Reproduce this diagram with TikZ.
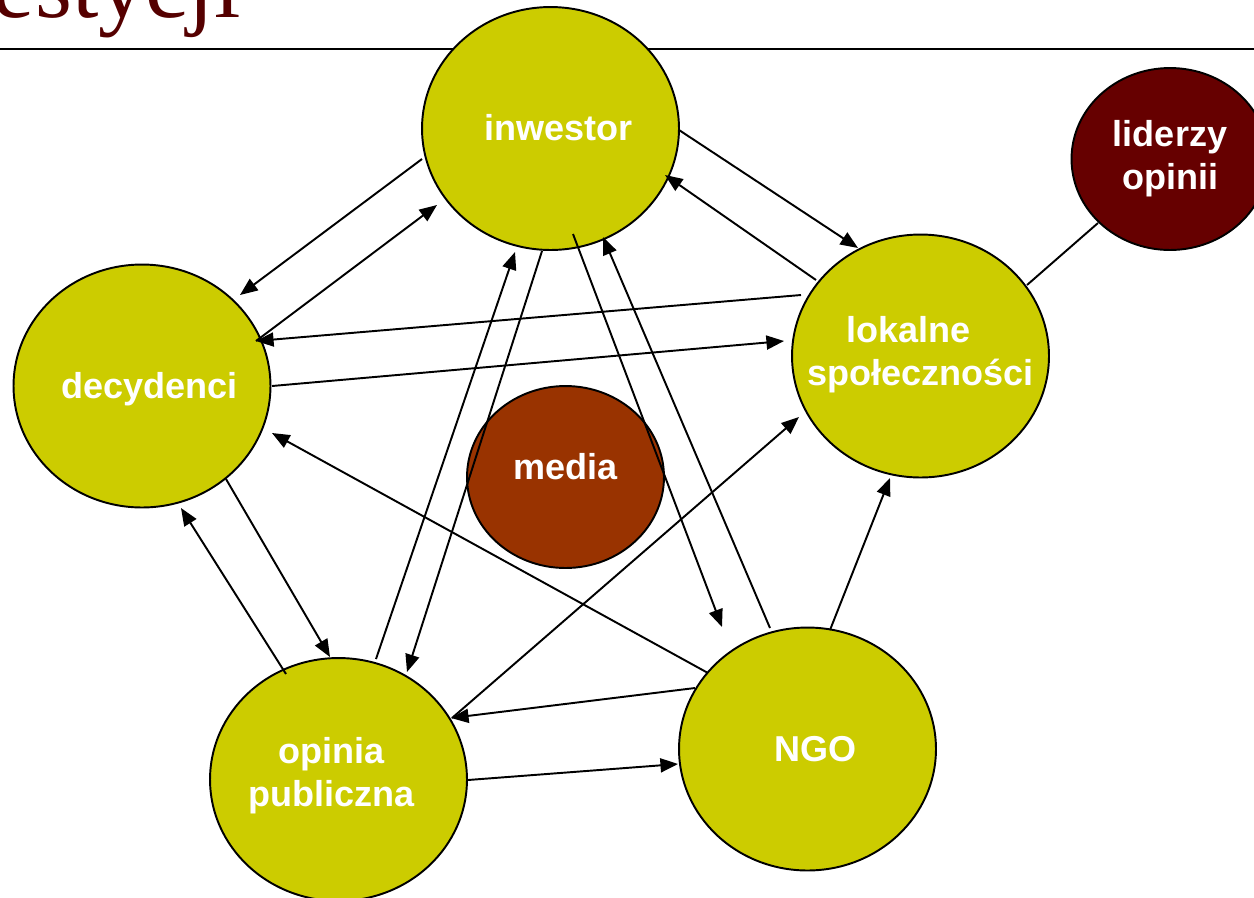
\documentclass[tikz,border=0pt]{standalone}
\usepackage{fontspec}
\setmainfont{Liberation Sans}
\newfontfamily\titlefont{Liberation Serif}
\usetikzlibrary{shapes.geometric,arrows.meta,calc}
\definecolor{ygreen}{HTML}{CCCC00}
\definecolor{mediabrown}{HTML}{993300}
\definecolor{leaderred}{HTML}{660000}
\definecolor{titlered}{HTML}{550000}
% text in a zero-width box, shifted horizontally by #1/2 and raised by #2 (box size unchanged)
\newcommand{\bubtext}[3]{\makebox[0pt]{\hspace*{#1}\raisebox{#2}[\height][\depth]{\begin{tabular}{@{}c@{}}#3\end{tabular}}}}
\begin{document}
\begin{tikzpicture}[x=0.02cm,y=-0.02cm,
  bubble/.style={ellipse, draw=black, line width=1.1pt, fill=ygreen,
    minimum width=5.14cm, minimum height=4.86cm, inner sep=0pt,
    text=white,
    font=\bfseries\fontsize{20.5}{24.5}\selectfont},
  smallbubble/.style={bubble, minimum width=3.94cm, minimum height=3.64cm},
  arr/.style={line width=1.1pt, -{Triangle[length=10pt,width=8pt]}},
  link/.style={line width=1.1pt}]
\useasboundingbox (0,0) rectangle (1254,897);
\clip (0,0) rectangle (1254,897);
% title and rule
\node[anchor=base east, inner sep=0pt, text=titlered,
  font=\titlefont\fontsize{54}{60}\selectfont] (title) at (241,17) {estycji};
\coordinate (ruleL) at (0,49);
\coordinate (ruleR) at (1254,49);
\draw[line width=1.6pt] (ruleL) -- (ruleR);
% nodes
\node[bubble] (inw) at (550.5,128.5) {\bubtext{9pt}{-1.7pt}{inwestor}};
\node[bubble] (dec) at (142,386) {\bubtext{9pt}{-2.3pt}{decydenci}};
\node[bubble] (lok) at (920.5,356) {\bubtext{0pt}{0.5pt}{\hspace*{-14pt}lokalne\\społeczności}};
\node[bubble] (opi) at (338.5,779.5) {\bubtext{-8pt}{1.7pt}{opinia\\publiczna}};
\node[bubble] (ngo) at (807.5,749) {\bubtext{9pt}{-2.3pt}{NGO}};
\node[smallbubble, fill=mediabrown] (med) at (565.5,477) {\bubtext{0pt}{3.4pt}{media}};
\node[smallbubble, fill=leaderred] (lid) at (1170,159) {\bubtext{0pt}{0pt}{liderzy\\opinii}};
% connectors
\draw[arr] ($(inw)+(-128.5,30.5)$) -- ($(dec)+(98,-91)$);
\draw[arr] ($(dec)+(114,-45)$) -- ($(inw)+(-113.5,76.5)$);
\draw[arr] ($(inw)+(128.5,1.5)$) -- ($(lok)+(-62.5,-108)$);
\draw[arr] ($(lok)+(-104.5,-76)$) -- ($(inw)+(114.5,46.5)$);
\draw[arr] ($(lok)+(-119.5,-61)$) -- ($(dec)+(114,-45)$);
\draw[arr] ($(dec)+(130,0)$) -- ($(lok)+(-136.5,-15)$);
\draw[link] ($(lok)+(106.5,-71)$) -- ($(lid)+(-72,64)$);
\draw[arr] ($(inw)+(-8.5,122.5)$) -- ($(opi)+(68.5,-107.5)$);
\draw[arr] ($(opi)+(37.5,-120.5)$) -- ($(inw)+(-35.5,123.5)$);
\draw[arr] ($(inw)+(22.5,105.5)$) -- ($(ngo)+(-85.5,-122)$);
\draw[arr] ($(ngo)+(-37.5,-121)$) -- ($(inw)+(52.5,108.5)$);
\draw[arr] ($(ngo)+(-99.5,-76)$) -- ($(dec)+(130,47)$);
\draw[arr] ($(opi)+(113.5,-61.5)$) -- ($(lok)+(-121.5,61)$);
\draw[arr] ($(ngo)+(22.5,-119)$) -- ($(lok)+(-30.5,122)$);
\draw[arr] ($(ngo)+(-112.5,-61)$) -- ($(opi)+(112.5,-61.5)$);
\draw[arr] ($(opi)+(129.5,0.5)$) -- ($(ngo)+(-129.5,15)$);
\draw[arr] ($(dec)+(84,93)$) -- ($(opi)+(-8.5,-122.5)$);
\draw[arr] ($(opi)+(-52.5,-105.5)$) -- ($(dec)+(39,122)$);
\end{tikzpicture}
\end{document}
